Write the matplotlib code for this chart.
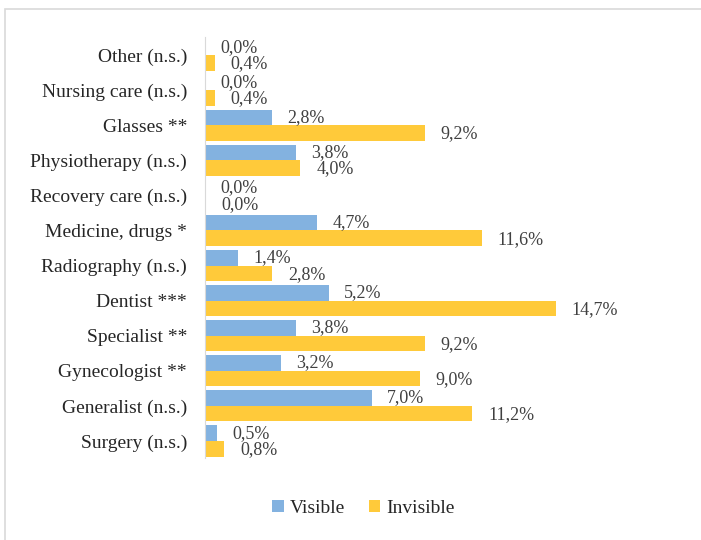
import matplotlib.pyplot as plt
from matplotlib.patches import Rectangle
import numpy as np

# categories listed bottom to top
categories = ["Surgery (n.s.)", "Generalist (n.s.)", "Gynecologist **", "Specialist **",
              "Dentist ***", "Radiography (n.s.)", "Medicine, drugs *", "Recovery care (n.s.)",
              "Physiotherapy (n.s.)", "Glasses **", "Nursing care (n.s.)", "Other (n.s.)"]
visible = [0.5, 7.0, 3.2, 3.8, 5.2, 1.4, 4.7, 0.0, 3.8, 2.8, 0.0, 0.0]
invisible = [0.8, 11.2, 9.0, 9.2, 14.7, 2.8, 11.6, 0.0, 4.0, 9.2, 0.4, 0.4]

blue = "#83B2E0"
yellow = "#FFCA3A"
plt.rcParams['font.family'] = ['Liberation Serif', 'DejaVu Serif']

fig = plt.figure(figsize=(7.01, 5.40), dpi=100)
ax = fig.add_axes([0.2924, 0.151, 0.613, 0.7796])

# frame around the chart area
fig.patches.append(Rectangle((5 / 701, -0.05), 1.1, 1.05 - 9 / 540, transform=fig.transFigure,
                             fill=False, edgecolor="#D9D9D9", lw=1.2))

y = np.arange(len(categories))
h = 0.445
b1 = ax.barh(y + h / 2, visible, height=h, color=blue, label="Visible")
b2 = ax.barh(y - h / 2, invisible, height=h, color=yellow, label="Invisible")

def fmt(v):
    return f"{v:.1f}".replace(".", ",") + "%"

for yi, v in zip(y, visible):
    ax.annotate(fmt(v), (v, yi + h / 2), xytext=(15, 0), textcoords="offset pixels",
                va="center", ha="left", fontsize=13, color="#404040")
for yi, v in zip(y, invisible):
    ax.annotate(fmt(v), (v, yi - h / 2), xytext=(16, -1), textcoords="offset pixels",
                va="center", ha="left", fontsize=13, color="#404040")

ax.set_xlim(0, 18)
ax.set_ylim(-0.5, len(categories) - 0.5)
ax.set_yticks(y)
ax.set_yticklabels(categories, fontsize=14, color="#262626")
ax.tick_params(axis="y", length=0, pad=13)
ax.set_xticks([])
for s in ["top", "right", "bottom"]:
    ax.spines[s].set_visible(False)
ax.spines["left"].set_color("#D9D9D9")

fig.legend(handles=[b1, b2], loc="center", bbox_to_anchor=(0.5185, 0.059), ncol=2,
           frameon=False, fontsize=14, handlelength=0.6, handleheight=0.6,
           handletextpad=0.3, columnspacing=1.2, labelcolor="#262626")

fig.savefig("out.png", dpi=100)
